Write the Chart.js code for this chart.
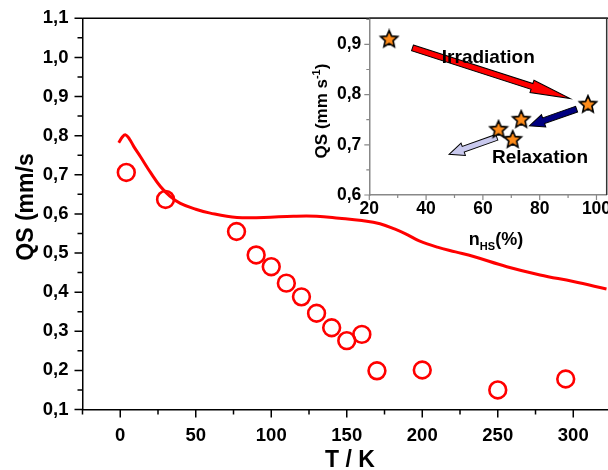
<!DOCTYPE html>
<html>
<head>
<meta charset="utf-8">
<script src="https://cdn.jsdelivr.net/npm/chart.js@4.4.1/dist/chart.umd.min.js"></script>
<style>
html, body { margin: 0; padding: 0; background: #fff; }
#wrap { position: relative; width: 608px; height: 470px; overflow: hidden; }
#main { position: absolute; left: 0; top: 0; }
#inset { position: absolute; left: 290px; top: 0; }
</style>
</head>
<body>
<div id="wrap">
  <canvas id="main" width="608" height="470"></canvas>
  <canvas id="inset" width="318" height="260"></canvas>
</div>
<script>
// main plot: measured QS vs temperature
const tempK = [4, 30, 77, 90, 100, 110, 120, 130, 140, 150, 160, 170, 200, 250, 295];
const qsMeasured = [0.706, 0.637, 0.555, 0.495, 0.465, 0.423, 0.388, 0.346, 0.309, 0.276, 0.292, 0.199, 0.201, 0.15, 0.178];

// main plot: smooth curve
const fitT = [-1, 1.5, 3.5, 6, 9, 13.4, 20, 26.6, 33, 39.8, 50, 59.6, 77.3, 95, 114.7, 130, 145, 160, 172, 182, 190, 198, 210, 222, 234, 256, 278, 300, 322];
const fitQS = [0.782, 0.797, 0.802, 0.792, 0.772, 0.746, 0.706, 0.67, 0.645, 0.627, 0.612, 0.602, 0.591, 0.591, 0.594, 0.594, 0.589, 0.583, 0.575, 0.561, 0.547, 0.531, 0.515, 0.503, 0.491, 0.465, 0.444, 0.427, 0.408];

// inset: QS vs HS fraction
const nHS = [27, 97, 73.5, 65.5, 70.5];
const qsInset = [0.91, 0.78, 0.75, 0.73, 0.71];

// inset arrows (data coords: [nHS, QS])
const arrowFrom = [[35.2, 0.893], [93.0, 0.771], [64.9, 0.715]];
const arrowTo = [[90.7, 0.792], [76.4, 0.738], [48.1, 0.681]];
const arrowNames = ['Irradiation', 'Relaxation'];

const xTicksMain = { min: -25, max: 323, step: 25, major: 50 };
const yTicksMain = { min: 0.1, max: 1.1, step: 0.05, major: 0.1 };
const xTicksInset = { min: 20, max: 103.6, step: 10, major: 20 };
const yTicksInset = { min: 0.6, max: 0.952, step: 0.05, major: 0.1 };

const FONT = "'Liberation Sans', Arial, sans-serif";
Chart.defaults.font.family = FONT;
Chart.defaults.color = '#000';

const isMult = (v, m) => Math.abs(v / m - Math.round(v / m)) < 1e-6;
const comma = v => v.toFixed(1).replace('.', ',');

// tick marks: long for major, short for minor, pointing outward
const outTicks = {
  id: 'outTicks',
  afterDraw(chart, args, o) {
    const ctx = chart.ctx;
    const xs = chart.scales.x, ys = chart.scales.y, a = chart.chartArea;
    ctx.save();
    ctx.strokeStyle = o.color;
    ctx.lineWidth = o.width;
    ctx.beginPath();
    xs.ticks.forEach(t => {
      const px = xs.getPixelForValue(t.value);
      const len = isMult(t.value, o.xMajor) ? o.major : o.minor;
      ctx.moveTo(px, a.bottom);
      ctx.lineTo(px, a.bottom + len);
    });
    ys.ticks.forEach(t => {
      const py = ys.getPixelForValue(t.value);
      const len = isMult(t.value, o.yMajor) ? o.major : o.minor;
      ctx.moveTo(a.left, py);
      ctx.lineTo(a.left - len, py);
    });
    ctx.stroke();
    ctx.restore();
  }
};

// frame lines + titles of the main plot
const mainDeco = {
  id: 'mainDeco',
  afterDraw(chart) {
    const ctx = chart.ctx, a = chart.chartArea;
    ctx.save();
    ctx.strokeStyle = '#000';
    ctx.lineWidth = 1.5;
    ctx.beginPath();
    ctx.moveTo(a.left, a.top);
    ctx.lineTo(a.right, a.top);
    ctx.stroke();

    ctx.fillStyle = '#000';
    ctx.font = 'bold 23px ' + FONT;
    ctx.textAlign = 'center';
    ctx.textBaseline = 'alphabetic';
    ctx.fillText('T / K', 350, 467);

    ctx.translate(33, 207);
    ctx.rotate(-Math.PI / 2);
    ctx.fillText('QS (mm/s', 0, 0);
    ctx.restore();
  }
};

function makeStar(r) {
  const s = Math.ceil(r * 2 + 4);
  const c = document.createElement('canvas');
  c.width = s; c.height = s;
  const g = c.getContext('2d');
  g.beginPath();
  for (let i = 0; i < 10; i++) {
    const rad = i % 2 ? r * 0.46 : r;
    const ang = -Math.PI / 2 + i * Math.PI / 5;
    g.lineTo(s / 2 + rad * Math.cos(ang), s / 2 + rad * Math.sin(ang));
  }
  g.closePath();
  g.fillStyle = '#ff8c1a';
  g.fill();
  g.lineWidth = 1.6;
  g.strokeStyle = '#000';
  g.stroke();
  return c;
}

// linear scale with ticks on every multiple of cfg.step, labels on labelStep
function scaleTicks(cfg, labelStep, fmt, horizontal, fitSize) {
  return {
    type: 'linear',
    min: cfg.min,
    max: cfg.max,
    afterBuildTicks: s => {
      const out = [];
      const first = Math.ceil(cfg.min / cfg.step - 1e-9);
      for (let k = first; k * cfg.step <= cfg.max + 1e-9; k++) {
        out.push({ value: Math.round(k * cfg.step * 1e6) / 1e6 });
      }
      s.ticks = out;
    },
    afterFit: s => {
      if (horizontal) { s.height = fitSize; s.paddingLeft = 0; s.paddingRight = 0; }
      else { s.width = fitSize; s.paddingTop = 0; s.paddingBottom = 0; }
    },
    grid: { display: false, drawTicks: false },
    ticks: {
      stepSize: cfg.step,
      autoSkip: false,
      maxRotation: 0,
      callback: v => isMult(v, labelStep) ? fmt(v) : ''
    }
  };
}

// ---------- main chart ----------
const mx = scaleTicks(xTicksMain, xTicksMain.major, v => String(Math.round(v)), true, 60.5);
mx.border = { display: true, color: '#000', width: 1.5 };
mx.ticks.padding = 15.5;
mx.ticks.font = { size: 18.5, weight: 'bold' };

const my = scaleTicks(yTicksMain, yTicksMain.major, comma, false, 82.5);
my.border = { display: true, color: '#000', width: 1.5 };
my.ticks.padding = 14;
my.ticks.font = { size: 18.5, weight: 'bold' };

new Chart(document.getElementById('main'), {
  type: 'scatter',
  data: {
    datasets: [
      {
        type: 'line',
        data: fitT.map((t, i) => ({ x: t, y: fitQS[i] })),
        borderColor: '#ff0000',
        borderWidth: 3,
        pointRadius: 0,
        tension: 0.4,
        fill: false
      },
      {
        data: tempK.map((t, i) => ({ x: t, y: qsMeasured[i] })),
        pointStyle: 'circle',
        pointRadius: 8.4,
        borderWidth: 2.6,
        borderColor: '#ff0000',
        backgroundColor: 'rgba(0,0,0,0)'
      }
    ]
  },
  options: {
    responsive: false,
    animation: false,
    devicePixelRatio: 1,
    layout: { autoPadding: false, padding: { top: 18.3, right: 0, left: 0, bottom: 0 } },
    plugins: {
      legend: { display: false },
      tooltip: { enabled: false },
      outTicks: { color: '#000', width: 1.5, major: 8, minor: 5, xMajor: xTicksMain.major, yMajor: yTicksMain.major }
    },
    scales: { x: mx, y: my }
  },
  plugins: [outTicks, mainDeco]
});

// ---------- inset ----------
const insetDeco = {
  id: 'insetDeco',
  beforeDraw(chart) {
    const ctx = chart.ctx, a = chart.chartArea;
    ctx.save();
    ctx.fillStyle = '#fff';
    ctx.fillRect(a.left, a.top, a.right - a.left, a.bottom - a.top);
    ctx.restore();
  },
  beforeDatasetsDraw(chart) {
    const ctx = chart.ctx, xs = chart.scales.x, ys = chart.scales.y;
    const fills = ['#ff0000', '#000080', '#c9c9ee'];
    const heads = [40, 15, 15];
    ctx.save();
    arrowFrom.forEach((p, i) => {
      const x0 = xs.getPixelForValue(p[0]), y0 = ys.getPixelForValue(p[1]);
      const x1 = xs.getPixelForValue(arrowTo[i][0]), y1 = ys.getPixelForValue(arrowTo[i][1]);
      const ang = Math.atan2(y1 - y0, x1 - x0);
      const len = Math.hypot(x1 - x0, y1 - y0);
      const w = 3, hw = 6.5, hl = heads[i];
      ctx.save();
      ctx.translate(x0, y0);
      ctx.rotate(ang);
      ctx.beginPath();
      ctx.moveTo(0, -w);
      ctx.lineTo(len - hl, -w);
      ctx.lineTo(len - hl, -hw);
      ctx.lineTo(len, 0);
      ctx.lineTo(len - hl, hw);
      ctx.lineTo(len - hl, w);
      ctx.lineTo(0, w);
      ctx.closePath();
      ctx.fillStyle = fills[i];
      ctx.fill();
      ctx.lineWidth = 1;
      ctx.strokeStyle = '#000';
      ctx.stroke();
      ctx.restore();
    });
    ctx.restore();
  },
  afterDraw(chart) {
    const ctx = chart.ctx, a = chart.chartArea, xs = chart.scales.x, ys = chart.scales.y;
    ctx.save();
    // frame
    ctx.lineWidth = 1.5;
    ctx.strokeStyle = '#333';
    ctx.beginPath();
    ctx.moveTo(a.left, a.top);
    ctx.lineTo(a.right, a.top);
    ctx.lineTo(a.right, a.bottom);
    ctx.stroke();

    // notes
    ctx.fillStyle = '#000';
    ctx.font = 'bold 19px ' + FONT;
    ctx.textAlign = 'center';
    ctx.textBaseline = 'alphabetic';
    ctx.fillText(arrowNames[0], xs.getPixelForValue(61.9), ys.getPixelForValue(0.862));
    ctx.fillText(arrowNames[1], xs.getPixelForValue(80.1), ys.getPixelForValue(0.664));

    // x title: n_HS(%)
    ctx.textAlign = 'left';
    const cx = 206;
    ctx.font = 'bold 18px ' + FONT;
    const wN = ctx.measureText('n').width;
    ctx.font = 'bold 11px ' + FONT;
    const wHS = ctx.measureText('HS').width;
    ctx.font = 'bold 18px ' + FONT;
    const wP = ctx.measureText('(%)').width;
    let x = cx - (wN + wHS + wP) / 2;
    ctx.fillText('n', x, 245);
    x += wN;
    ctx.font = 'bold 11px ' + FONT;
    ctx.fillText('HS', x, 250);
    x += wHS;
    ctx.font = 'bold 18px ' + FONT;
    ctx.fillText('(%)', x, 245);

    // y title: QS (mm s-1)
    ctx.translate(37, 111);
    ctx.rotate(-Math.PI / 2);
    ctx.font = 'bold 17px ' + FONT;
    const t1 = 'QS (mm s', t3 = ')';
    const w1 = ctx.measureText(t1).width, w3 = ctx.measureText(t3).width;
    ctx.font = 'bold 11px ' + FONT;
    const w2 = ctx.measureText('-1').width;
    let y = -(w1 + w2 + w3) / 2;
    ctx.font = 'bold 17px ' + FONT;
    ctx.fillText(t1, y, 0);
    y += w1;
    ctx.font = 'bold 11px ' + FONT;
    ctx.fillText('-1', y, -7);
    y += w2;
    ctx.font = 'bold 17px ' + FONT;
    ctx.fillText(t3, y, 0);
    ctx.restore();
  }
};

const ix = scaleTicks(xTicksInset, xTicksInset.major, v => String(Math.round(v)), true, 65);
ix.border = { display: true, color: '#888', width: 1.5 };
ix.ticks.padding = 4;
ix.ticks.font = { size: 17.5, weight: 'bold' };

const iy = scaleTicks(yTicksInset, yTicksInset.major, comma, false, 79.3);
iy.border = { display: true, color: '#888', width: 1.5 };
iy.ticks.padding = 8;
iy.ticks.font = { size: 17.5, weight: 'bold' };

new Chart(document.getElementById('inset'), {
  type: 'scatter',
  data: {
    datasets: [{
      data: nHS.map((n, i) => ({ x: n, y: qsInset[i] })),
      pointStyle: makeStar(9),
      pointRadius: 9
    }]
  },
  options: {
    responsive: false,
    animation: false,
    devicePixelRatio: 1,
    layout: { autoPadding: false, padding: { top: 18.3, right: 1.3, left: 0, bottom: 0 } },
    plugins: {
      legend: { display: false },
      tooltip: { enabled: false },
      outTicks: { color: '#888', width: 1.2, major: 5, minor: 3, xMajor: xTicksInset.major, yMajor: yTicksInset.major }
    },
    scales: { x: ix, y: iy }
  },
  plugins: [insetDeco, outTicks]
});
</script>
</body>
</html>
